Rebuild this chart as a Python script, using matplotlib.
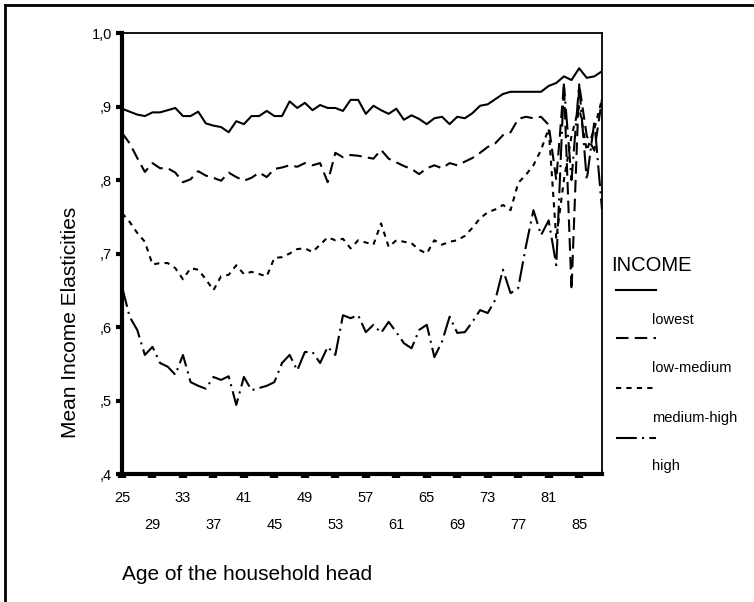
import matplotlib
matplotlib.use("Agg")
import matplotlib.pyplot as plt
from matplotlib.lines import Line2D

plt.rcParams['font.family'] = ['Liberation Sans', 'DejaVu Sans']

# ages 25..88
ages = list(range(25, 89))

lowest = [0.897, 0.893, 0.889, 0.887, 0.892, 0.892, 0.895, 0.898, 0.887, 0.887,
          0.893, 0.877, 0.874, 0.872, 0.865, 0.880, 0.876, 0.887, 0.887, 0.894,
          0.887, 0.887, 0.907, 0.898, 0.905, 0.895, 0.902, 0.898, 0.898, 0.894,
          0.909, 0.909, 0.890, 0.901, 0.895, 0.890, 0.897, 0.882, 0.888, 0.883,
          0.876, 0.884, 0.886, 0.876, 0.886, 0.884, 0.891, 0.901, 0.903, 0.910,
          0.917, 0.920, 0.920, 0.920, 0.920, 0.920, 0.928, 0.932, 0.941, 0.936,
          0.952, 0.939, 0.941, 0.948]

low_medium = [0.864, 0.850, 0.830, 0.811, 0.823, 0.816, 0.816, 0.810, 0.797, 0.801,
              0.812, 0.806, 0.803, 0.799, 0.810, 0.804, 0.799, 0.803, 0.810, 0.804,
              0.815, 0.817, 0.820, 0.818, 0.823, 0.820, 0.823, 0.797, 0.837, 0.831,
              0.834, 0.833, 0.831, 0.829, 0.841, 0.829, 0.824, 0.819, 0.815, 0.808,
              0.816, 0.820, 0.816, 0.823, 0.820, 0.825, 0.830, 0.837, 0.845, 0.850,
              0.861, 0.865, 0.883, 0.886, 0.884, 0.886, 0.875, 0.800, 0.930, 0.650,
              0.930, 0.860, 0.840, 0.910]

medium_high = [0.755, 0.743, 0.728, 0.716, 0.685, 0.687, 0.687, 0.680, 0.665, 0.680,
               0.678, 0.665, 0.650, 0.669, 0.671, 0.684, 0.672, 0.675, 0.672, 0.669,
               0.694, 0.695, 0.700, 0.706, 0.707, 0.702, 0.712, 0.722, 0.718, 0.720,
               0.707, 0.718, 0.715, 0.712, 0.741, 0.709, 0.718, 0.716, 0.714, 0.705,
               0.700, 0.718, 0.712, 0.716, 0.718, 0.724, 0.735, 0.748, 0.756, 0.760,
               0.766, 0.759, 0.796, 0.807, 0.820, 0.841, 0.870, 0.720, 0.800, 0.860,
               0.900, 0.840, 0.870, 0.910]

high = [0.655, 0.614, 0.596, 0.562, 0.573, 0.551, 0.546, 0.535, 0.562, 0.525,
        0.520, 0.516, 0.532, 0.528, 0.533, 0.494, 0.532, 0.514, 0.517, 0.520,
        0.525, 0.551, 0.562, 0.541, 0.566, 0.566, 0.551, 0.573, 0.562, 0.616,
        0.612, 0.616, 0.593, 0.603, 0.592, 0.607, 0.593, 0.578, 0.571, 0.596,
        0.603, 0.559, 0.580, 0.614, 0.592, 0.593, 0.607, 0.623, 0.619, 0.637,
        0.678, 0.646, 0.653, 0.709, 0.759, 0.725, 0.745, 0.684, 0.930, 0.800,
        0.930, 0.800, 0.880, 0.760]

series_names = ["lowest", "low-medium", "medium-high", "high"]
yticks = [0.4, 0.5, 0.6, 0.7, 0.8, 0.9, 1.0]
ytick_labels = [",4", ",5", ",6", ",7", ",8", ",9", "1,0"]
xticks = list(range(25, 89, 4))

styles = [dict(linestyle="-"),
          dict(dashes=(6, 3)),
          dict(dashes=(2.5, 2.5)),
          dict(dashes=(10, 2.5, 1, 2.5))]

fig = plt.figure(figsize=(7.54, 6.02), dpi=100)
ax = fig.add_axes([122/754, 1 - 474/602, 480/754, 441/602])

for vals, st in zip([lowest, low_medium, medium_high, high], styles):
    ax.plot(ages, vals, color="black", lw=1.5, **st)

ax.set_xlim(25, 88)
ax.set_ylim(0.4, 1.0)
ax.set_yticks(yticks)
ax.set_yticklabels(ytick_labels, fontsize=10.5)
ax.set_xticks(xticks)
xl = [str(a) if i % 2 == 0 else "\n" + str(a) for i, a in enumerate(xticks)]
ax.set_xticklabels(xl, fontsize=10.5, linespacing=2.2)
ax.tick_params(axis="y", direction="out", length=4, width=3, pad=3)
ax.tick_params(axis="x", direction="out", length=3, width=6, pad=9)

ax.spines["left"].set_linewidth(3)
ax.spines["bottom"].set_linewidth(3)
ax.spines["top"].set_linewidth(1.3)
ax.spines["right"].set_linewidth(1.3)

fig.text(122/754, 1 - 575/602, "Age of the household head", fontsize=15,
         ha="left", va="center")
fig.text(70/754, 1 - 322/602, "Mean Income Elasticities", fontsize=15,
         rotation=90, ha="center", va="center")

# legend drawn by hand, SPSS style
fig.text(611/754, 1 - 265/602, "INCOME", fontsize=14.5, ha="left", va="center")
leg_y = [290, 338, 388, 438]
lab_y = [320, 368, 418, 466]
for name, st, ly, ty in zip(series_names, styles, leg_y, lab_y):
    fig.add_artist(Line2D([616/754, 656/754], [1 - ly/602, 1 - ly/602],
                          color="black", lw=1.5, transform=fig.transFigure, **st))
    fig.text(652/754, 1 - ty/602, name, fontsize=10.5, ha="left", va="center")

# outer frame
fig.add_artist(Line2D([5/754, 5/754], [0, 1 - 5/602], color="black", lw=2,
                      transform=fig.transFigure))
fig.add_artist(Line2D([5/754, 1], [1 - 5/602, 1 - 5/602], color="black", lw=2,
                      transform=fig.transFigure))

fig.savefig("out.png", dpi=100)
